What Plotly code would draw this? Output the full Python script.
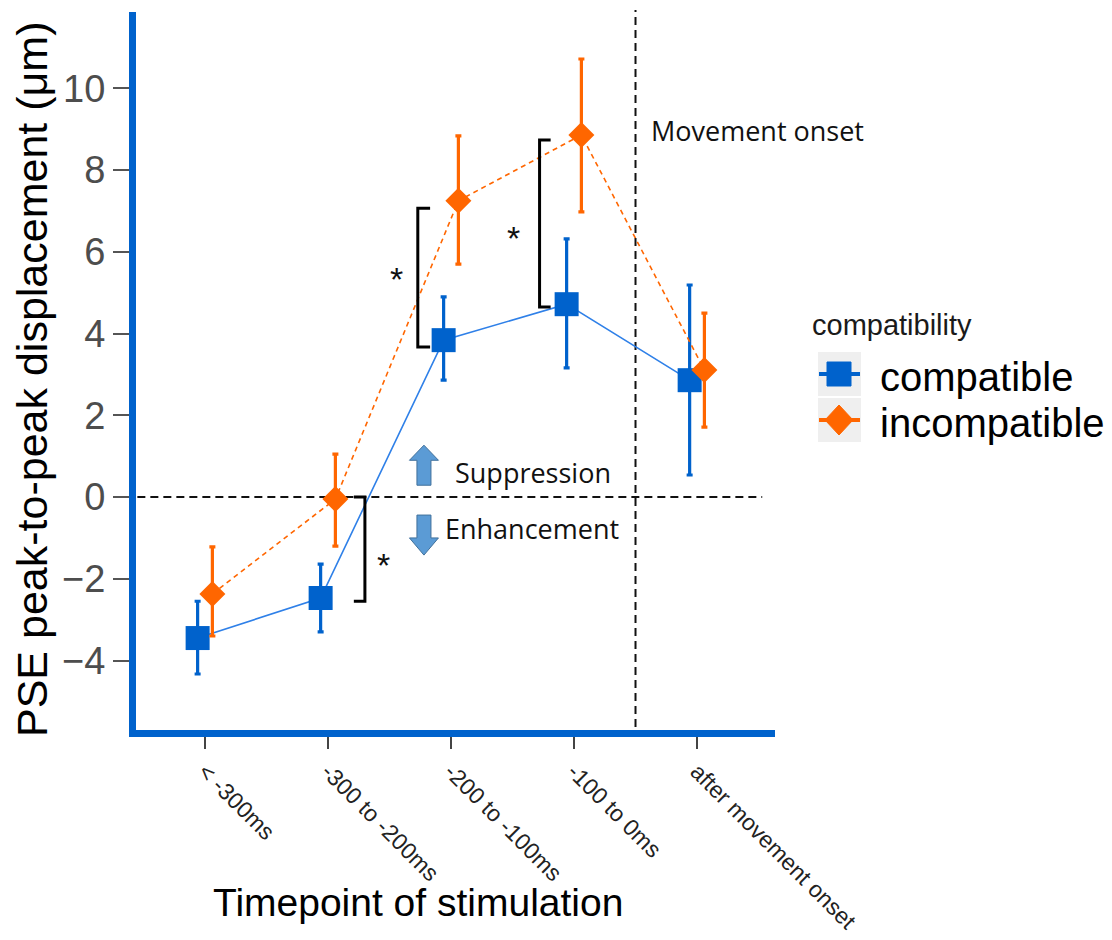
import plotly.graph_objects as go

# Stimulation timepoints (category axis)
timepoints = ["< -300ms", "-300 to -200ms", "-200 to -100ms", "-100 to 0ms", "after movement onset"]

# Mean PSE peak-to-peak displacement (µm) and error-bar limits per condition
compatible_mean = [-3.45, -2.47, 3.84, 4.72, 2.86]
compatible_upper = [-2.55, -1.64, 4.90, 6.32, 5.19]
compatible_lower = [-4.33, -3.30, 2.86, 3.16, 0.54]

incompatible_mean = [-2.37, -0.05, 7.25, 8.86, 3.11]
incompatible_upper = [-1.22, 1.05, 8.84, 10.72, 4.50]
incompatible_lower = [-3.40, -1.20, 5.70, 6.98, 1.71]

y_ticks = [-4, -2, 0, 2, 4, 6, 8, 10]

series_names = ["compatible", "incompatible"]

BLUE = "#0062CC"
BLUE_LINE = "#2F80E8"
ORANGE = "#FF6600"
DODGE = 0.06

# Plot-area edges in pixels, used for the margins and for paper-space placement
W, H = 1112, 940
PLOT_L, PLOT_R, PLOT_T, PLOT_B = 136, 775, 12, 730


def px_x(px):
    return (px - PLOT_L) / (PLOT_R - PLOT_L)


def px_y(py):
    return (PLOT_B - py) / (PLOT_B - PLOT_T)


idx = list(range(len(timepoints)))

fig = go.Figure()


def add_series(name, mean, upper, lower, offset, color, line_color, dash, symbol, size):
    fig.add_trace(go.Scatter(
        x=[i + offset for i in idx],
        y=mean,
        name=name,
        mode="lines+markers",
        line=dict(color=line_color, width=1.6, dash=dash),
        marker=dict(color=color, symbol=symbol, size=size),
        error_y=dict(
            type="data",
            symmetric=False,
            array=[u - m for u, m in zip(upper, mean)],
            arrayminus=[m - l for m, l in zip(mean, lower)],
            color=color,
            thickness=3.2,
            width=3,
        ),
        showlegend=False,
    ))


add_series(series_names[0], compatible_mean, compatible_upper, compatible_lower,
           -DODGE, BLUE, BLUE_LINE, "solid", "square", 24)
add_series(series_names[1], incompatible_mean, incompatible_upper, incompatible_lower,
           DODGE, ORANGE, ORANGE, "5px,4px", "diamond", 20)

# Reference lines: zero displacement and movement onset
ref_dash = "8px,5px"
fig.add_shape(type="line", xref="x", yref="y", x0=-0.55, x1=4.53, y0=0, y1=0,
              line=dict(color="#111111", width=2, dash=ref_dash), layer="below")
fig.add_shape(type="line", xref="x", yref="paper", x0=3.5, x1=3.5, y0=px_y(727), y1=px_y(10),
              line=dict(color="#111111", width=2, dash=ref_dash), layer="below")

# Significance brackets
brackets = [
    # (x of spine, x of tick ends, y bottom, y top, star x, star y)
    (1.73, 1.83, 3.67, 7.07, 1.555, 5.55),
    (2.72, 2.81, 4.65, 8.74, 2.51, 6.55),
    (1.30, 1.21, -2.55, 0.0, 1.45, -1.45),
]
for xs, xt, yb, yt, sx, sy in brackets:
    fig.add_shape(type="path", xref="x", yref="y",
                  path=f"M {xt},{yt} L {xs},{yt} L {xs},{yb} L {xt},{yb}",
                  line=dict(color="#000000", width=3))
    fig.add_annotation(x=sx, y=sy, xref="x", yref="y", text="*", showarrow=False,
                       yshift=-9, font=dict(family="Liberation Sans", size=34, color="#111111"))

# Block arrows for suppression / enhancement
ARROW_FILL = "#5B9BD5"
ARROW_EDGE = "#41719C"


def block_arrow(xc, y_tail, y_tip, y_neck, half_head=0.118, half_shaft=0.057):
    return (f"M {xc},{y_tip} L {xc + half_head},{y_neck} L {xc + half_shaft},{y_neck} "
            f"L {xc + half_shaft},{y_tail} L {xc - half_shaft},{y_tail} "
            f"L {xc - half_shaft},{y_neck} L {xc - half_head},{y_neck} Z")


fig.add_shape(type="path", xref="x", yref="y", path=block_arrow(1.78, 0.29, 1.27, 0.90),
              fillcolor=ARROW_FILL, line=dict(color=ARROW_EDGE, width=1))
fig.add_shape(type="path", xref="x", yref="y", path=block_arrow(1.78, -0.44, -1.42, -1.0),
              fillcolor=ARROW_FILL, line=dict(color=ARROW_EDGE, width=1))

note_font = dict(family="Open Sans", size=27, color="#111111")
fig.add_annotation(x=2.02, y=0.61, xref="x", yref="y", text="Suppression", showarrow=False,
                   xanchor="left", yanchor="middle", font=note_font)
fig.add_annotation(x=1.935, y=-0.76, xref="x", yref="y", text="Enhancement", showarrow=False,
                   xanchor="left", yanchor="middle", font=note_font)
fig.add_annotation(x=3.61, y=8.98, xref="x", yref="y", text="Movement onset", showarrow=False,
                   xanchor="left", yanchor="middle", font=note_font)

# Axis titles
fig.add_annotation(x=px_x(418), y=px_y(903), xref="paper", yref="paper",
                   xanchor="center", yanchor="middle",
                   text="Timepoint of stimulation", showarrow=False,
                   font=dict(family="Liberation Sans", size=39, color="#000000"))
fig.add_annotation(x=px_x(32), y=px_y(380), xref="paper", yref="paper",
                   xanchor="center", yanchor="middle",
                   text="PSE peak-to-peak displacement (μm)", showarrow=False, textangle=-90,
                   font=dict(family="Liberation Sans", size=43, color="#000000"))

# Legend: title, grey key boxes, line-and-symbol keys, labels
fig.add_annotation(x=px_x(810), y=px_y(325), xref="paper", yref="paper",
                   text="compatibility", showarrow=False, xanchor="left", yanchor="middle",
                   font=dict(family="Liberation Sans", size=29, color="#1a1a1a"))

legend_rows = [(374, BLUE, "square"), (420, ORANGE, "diamond")]
for (cy, color, kind), name in zip(legend_rows, series_names):
    fig.add_shape(type="rect", xref="paper", yref="paper",
                  x0=px_x(818), x1=px_x(861), y0=px_y(cy + 22), y1=px_y(cy - 22),
                  fillcolor="#EFEFEF", line=dict(width=0), layer="below")
    fig.add_shape(type="line", xref="paper", yref="paper",
                  x0=px_x(819), x1=px_x(860), y0=px_y(cy), y1=px_y(cy),
                  line=dict(color=color, width=4))
    if kind == "square":
        path = (f"M {px_x(827)},{px_y(cy - 12)} L {px_x(851)},{px_y(cy - 12)} "
                f"L {px_x(851)},{px_y(cy + 12)} L {px_x(827)},{px_y(cy + 12)} Z")
    else:
        path = (f"M {px_x(839)},{px_y(cy - 15)} L {px_x(853)},{px_y(cy)} "
                f"L {px_x(839)},{px_y(cy + 15)} L {px_x(825)},{px_y(cy)} Z")
    fig.add_shape(type="path", xref="paper", yref="paper", path=path,
                  fillcolor=color, line=dict(color=color, width=1))
    fig.add_annotation(x=px_x(878), y=px_y(cy + 3), xref="paper", yref="paper",
                       text=name, showarrow=False, xanchor="left", yanchor="middle",
                       font=dict(family="Liberation Sans", size=40, color="#000000"))

fig.update_layout(
    width=W,
    height=H,
    margin=dict(l=PLOT_L, r=W - PLOT_R, t=PLOT_T, b=H - PLOT_B, autoexpand=False),
    paper_bgcolor="white",
    plot_bgcolor="white",
    font=dict(family="Liberation Sans", color="#1a1a1a"),
    showlegend=False,
    xaxis=dict(
        range=[-0.561, 4.634],
        tickmode="array", tickvals=idx, ticktext=timepoints,
        tickangle=45,
        tickfont=dict(size=23, color="#222222"),
        ticks="outside", ticklen=12, tickwidth=2, tickcolor="#444444",
        showline=True, linecolor=BLUE, linewidth=7,
        showgrid=False, zeroline=False, automargin=False,
    ),
    yaxis=dict(
        range=[-5.70, 11.87],
        tickmode="array", tickvals=y_ticks,
        tickfont=dict(size=38, color="#4D4D4D"),
        ticks="outside", ticklen=16, tickwidth=2, tickcolor="#555555",
        showline=True, linecolor=BLUE, linewidth=7,
        showgrid=False, zeroline=False, automargin=False,
    ),
)

fig.write_html("out.html")
